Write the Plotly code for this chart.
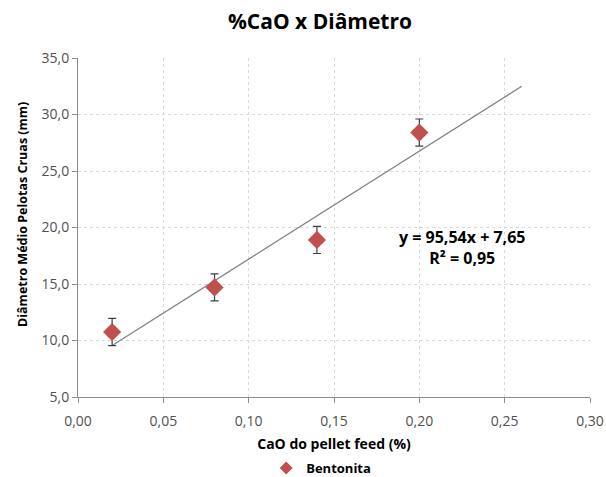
import plotly.graph_objects as go

# Data
cao = [0.02, 0.08, 0.14, 0.20]
diametro = [10.75, 14.7, 18.9, 28.4]
erro = [1.2, 1.2, 1.2, 1.2]
serie_nome = "Bentonita"

trend_slope = 95.54
trend_intercept = 7.65
trend_x = [0.02, 0.26]
trend_y = [trend_slope * x + trend_intercept for x in trend_x]

x_ticks = [0.00, 0.05, 0.10, 0.15, 0.20, 0.25, 0.30]
x_tick_labels = ["0,00", "0,05", "0,10", "0,15", "0,20", "0,25", "0,30"]
y_ticks = [5, 10, 15, 20, 25, 30, 35]
y_tick_labels = ["5,0", "10,0", "15,0", "20,0", "25,0", "30,0", "35,0"]

FONT = "Open Sans, Liberation Sans, sans-serif"
RED = "#C0504D"

fig = go.Figure()
fig.add_trace(go.Scatter(
    x=trend_x, y=trend_y, mode="lines",
    line=dict(color="#7f7f7f", width=1.2),
    showlegend=False, hoverinfo="skip"))
fig.add_trace(go.Scatter(
    x=cao, y=diametro, mode="markers", name=serie_nome, showlegend=False,
    marker=dict(symbol="diamond", size=14, color=RED),
    error_y=dict(type="data", array=erro, visible=True,
                 color="#404040", thickness=1.2, width=4)))
# legend entry (smaller symbol as in the reference)
fig.add_trace(go.Scatter(
    x=[None], y=[None], mode="markers", name="<b>" + serie_nome + "</b>",
    marker=dict(symbol="diamond", size=10, color=RED)))

fig.add_annotation(
    x=0.225, y=18.25, xref="x", yref="y", showarrow=False,
    xanchor="center", yanchor="middle", align="center",
    text="<b>y = 95,54x + 7,65<br>R² = 0,95</b>",
    font=dict(family=FONT, size=16, color="#000000"))

fig.add_annotation(
    x=(22 - 78) / 512, y=(397 - 215) / 339, xref="paper", yref="paper",
    showarrow=False, xanchor="center", yanchor="middle", textangle=-90,
    text="<b>Diâmetro Médio Pelotas Cruas (mm)</b>",
    font=dict(family=FONT, size=12.5, color="#000000"))

fig.update_layout(
    width=606, height=477,
    margin=dict(l=78, r=16, t=58, b=80),
    paper_bgcolor="white", plot_bgcolor="white",
    font=dict(family=FONT, color="#404040"),
    title=dict(text="<b>%CaO x Diâmetro</b>", x=320 / 606, xref="container",
               xanchor="center", y=1 - 22 / 477, yanchor="middle",
               font=dict(family=FONT, size=21, color="#000000")),
    legend=dict(orientation="h", x=0.475, xanchor="center",
                y=9 / 477, yref="container", yanchor="middle",
                font=dict(family=FONT, size=13, color="#000000"),
                itemwidth=30),
    xaxis=dict(range=[0, 0.30], tickvals=x_ticks, ticktext=x_tick_labels,
               showgrid=True, gridcolor="#d9d9d9", griddash="dot", gridwidth=1,
               showline=True, linecolor="#8c8c8c", linewidth=1,
               ticks="outside", ticklen=5, tickcolor="#8c8c8c",
               zeroline=False, automargin=False, ticklabelstandoff=6,
               tickfont=dict(family=FONT, size=14, color="#505050"),
               title=dict(text="<b>CaO do pellet feed (%)</b>", standoff=20,
                          font=dict(family=FONT, size=14, color="#000000"))),
    yaxis=dict(range=[5, 35], tickvals=y_ticks, ticktext=y_tick_labels,
               showgrid=True, gridcolor="#d9d9d9", griddash="dot", gridwidth=1,
               showline=True, linecolor="#8c8c8c", linewidth=1,
               ticks="outside", ticklen=5, tickcolor="#8c8c8c",
               zeroline=False, automargin=False,
               tickfont=dict(family=FONT, size=14, color="#505050")),
)

fig.write_html("out.html")
